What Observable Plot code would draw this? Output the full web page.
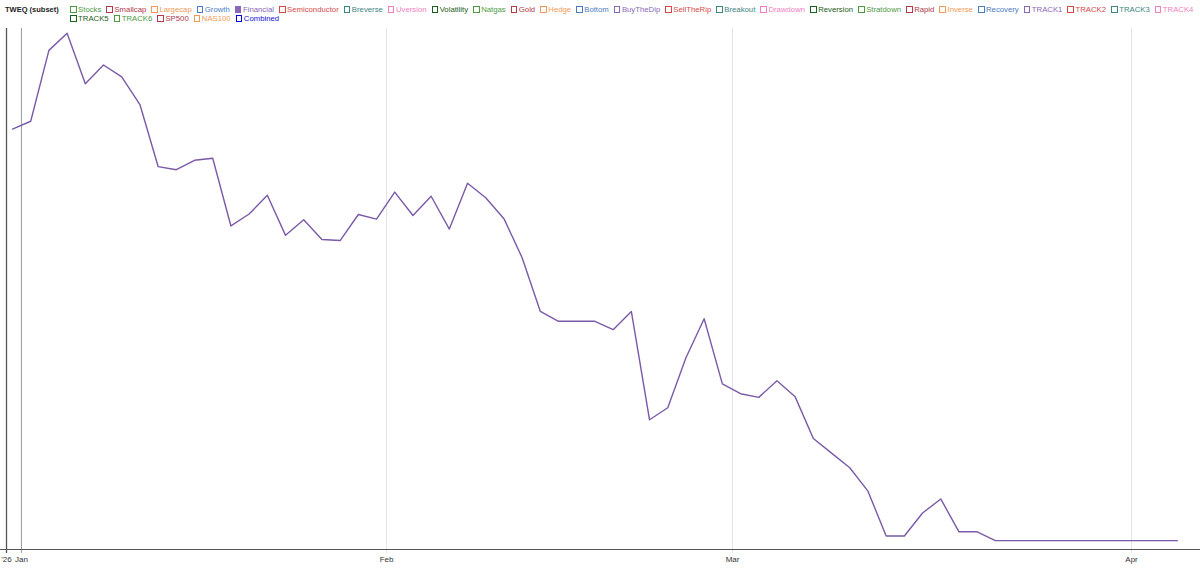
<!DOCTYPE html>
<html>
<head>
<meta charset="utf-8">
<script src="https://cdn.jsdelivr.net/npm/d3@7"></script>
<script src="https://cdn.jsdelivr.net/npm/@observablehq/plot@0.6"></script>
<style>
  html, body { margin: 0; padding: 0; background: #fff; }
  #wrap { position: relative; width: 1200px; height: 573px; overflow: hidden; font-family: "Liberation Sans", Arial, sans-serif; }
  #chart { position: absolute; left: 0; top: 0; }
  .title { position: absolute; left: 5px; top: 4.5px; font-size: 7.5px; color: #222; font-weight: bold; }
  .row { position: absolute; left: 70px; display: flex; gap: 5px; font-size: 7.75px; white-space: nowrap; }
  .item { display: flex; align-items: center; }
  .sw { width: 4.6px; height: 4.6px; border: 1.2px solid; margin-right: 1.5px; }
</style>
</head>
<body>
<div id="wrap">
  <div id="chart"></div>
  <div class="title">TWEQ (subset)</div>
  <div class="row" id="row1" style="top:5px"></div>
  <div class="row" id="row2" style="top:14px"></div>
</div>
<script>
// Legend series names (row 1, row 2) and the active series
const legendRow1 = ["Stocks","Smallcap","Largecap","Growth","Financial","Semiconductor","Breverse","Uversion","Volatility","Natgas","Gold","Hedge","Bottom","BuyTheDip","SellTheRip","Breakout","Drawdown","Reversion","Stratdown","Rapid","Inverse","Recovery","TRACK1","TRACK2","TRACK3","TRACK4"];
const legendRow2 = ["TRACK5","TRACK6","SP500","NAS100","Combined"];
const palette = ["#4f9a45","#b23a4a","#f29a55","#4a7cc4","#8a68b8","#d44a4a","#3c8582","#f27fbf","#1b5e20"];
const combinedColor = "#1010e0";
const activeSeries = "Financial";

// Trading-day index (0 = 2025-12-31 … 64 = 2026-04-06) and Financial values
const dayIndex = [0,1,2,3,4,5,6,7,8,9,10,11,12,13,14,15,16,17,18,19,20,21,22,23,24,25,26,27,28,29,30,31,32,33,34,35,36,37,38,39,40,41,42,43,44,45,46,47,48,49,50,51,52,53,54,55,56,57,58,59,60,61,62,63,64];
const financial = [80.7,82.2,95.8,99.1,89.4,93.0,90.7,85.4,73.5,72.9,74.7,75.1,62.1,64.4,68.0,60.3,63.3,59.5,59.3,64.3,63.4,68.6,64.1,67.8,61.5,70.3,67.5,63.5,56.0,45.7,43.8,43.8,43.8,42.2,45.7,24.9,27.2,36.8,44.3,31.8,29.9,29.2,32.4,29.3,21.3,18.5,15.7,11.2,2.6,2.6,7.0,9.7,3.4,3.4,1.7,1.7,1.7,1.7,1.7,1.7,1.7,1.7,1.7,1.7,1.7];

// X tick positions (month boundaries in trading-day index units) and labels
const majorTicks = [-0.33, 0.49];
const majorLabels = ["'26", "Jan"];
const monthTicks = [20.55, 39.56, 61.48];
const monthLabels = ["Feb", "Mar", "Apr"];

const data = dayIndex.map((d, i) => ({day: d, value: financial[i]}));

const allNames = legendRow1.concat(legendRow2);
function legendColor(n) {
  if (n === "Combined") return combinedColor;
  return palette[allNames.indexOf(n) % palette.length];
}
function fillRow(id, names) {
  const row = document.getElementById(id);
  names.forEach(n => {
    const c = legendColor(n);
    const item = document.createElement("div");
    item.className = "item";
    item.style.color = c;
    const sw = document.createElement("span");
    sw.className = "sw";
    sw.style.borderColor = n === "Combined" ? "#0000dd" : c;
    if (n === activeSeries) sw.style.background = c;
    item.appendChild(sw);
    item.appendChild(document.createTextNode(n));
    row.appendChild(item);
  });
}
fillRow("row1", legendRow1);
fillRow("row2", legendRow2);

const chart = Plot.plot({
  width: 1200,
  height: 573,
  marginTop: 28,
  marginBottom: 24,
  marginLeft: 6,
  marginRight: 0,
  style: {fontFamily: "Liberation Sans, Arial, sans-serif", fontSize: "8px", color: "#333", background: "#fff"},
  x: {domain: [-0.33, 65.27], axis: null, label: null},
  y: {domain: [0, 100], axis: null, label: null},
  marks: [
    Plot.ruleX(monthTicks, {stroke: "#e4e4e4", strokeWidth: 1, insetBottom: -4}),
    Plot.ruleX([majorTicks[1]], {stroke: "#9a9a9a", strokeWidth: 1, insetBottom: -4}),
    Plot.ruleX([majorTicks[0]], {stroke: "#555", strokeWidth: 1.3, insetBottom: -4}),
    Plot.ruleY([0], {stroke: "#555", strokeWidth: 1.2, insetLeft: -6}),
    Plot.axisX({ticks: majorTicks, tickFormat: (d, i) => majorLabels[i], tickSize: 0, tickPadding: 7, fill: "#333", fontSize: 8, label: null}),
    Plot.axisX({ticks: monthTicks, tickFormat: (d, i) => monthLabels[i], tickSize: 0, tickPadding: 7, fill: "#333", fontSize: 8, label: null}),
    Plot.line(data, {x: "day", y: "value", stroke: "#7a5aa8", strokeWidth: 1.4})
  ]
});
document.getElementById("chart").appendChild(chart);
</script>
</body>
</html>
